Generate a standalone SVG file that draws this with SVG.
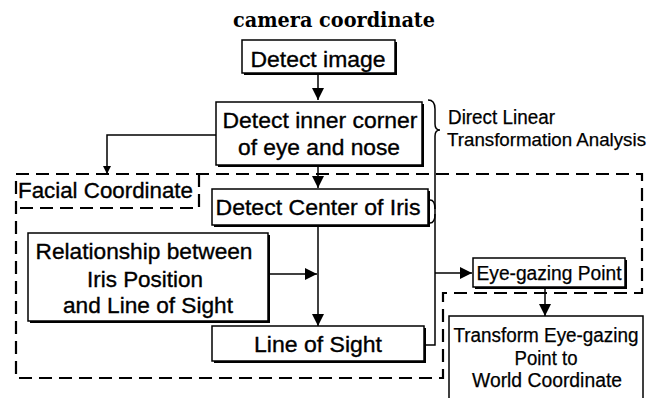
<svg xmlns="http://www.w3.org/2000/svg" width="653" height="398" viewBox="0 0 653 398">
<style>
.bx{fill:#fff;stroke:#000;stroke-width:1.5}
.sh{fill:#000}
.t{font-family:"Liberation Sans",Arial,sans-serif;font-size:22px;fill:#000;stroke:#000;stroke-width:0.35}
.s{font-family:"Liberation Sans",Arial,sans-serif;font-size:20px;fill:#000;stroke:#000;stroke-width:0.25}
.ln{fill:none;stroke:#000;stroke-width:1.5}
.dash{fill:none;stroke:#000;stroke-width:2.2;stroke-dasharray:13 7}
</style>
<defs>
<marker id="ah" viewBox="0 0 12 12" refX="12" refY="6" markerWidth="12" markerHeight="12" markerUnits="userSpaceOnUse" orient="auto">
<path d="M0,0 L12,6 L0,12 Z" fill="#000"/>
</marker>
<marker id="ahs" viewBox="0 0 10 10" refX="10" refY="5" markerWidth="8" markerHeight="8" markerUnits="userSpaceOnUse" orient="auto">
<path d="M0,0 L10,5 L0,10 Z" fill="#000"/>
</marker>
</defs>
<rect width="653" height="398" fill="#fff"/>
<text x="334" y="27" text-anchor="middle" font-family="'DejaVu Serif','Liberation Serif',serif" font-size="20" font-weight="bold" textLength="202" lengthAdjust="spacingAndGlyphs">camera coordinate</text>

<g id="regions">
<path class="dash" d="M16,174 H642 V293 H443 V378 H16 Z"/>
<path class="dash" d="M199,174 V208 H16"/>
<text class="t" x="18" y="198" textLength="175" lengthAdjust="spacingAndGlyphs">Facial Coordinate</text>
</g>

<g id="connectors">
<line class="ln" x1="318" y1="75" x2="318" y2="100" marker-end="url(#ah)"/>
<line class="ln" x1="318" y1="166" x2="318" y2="188" marker-end="url(#ah)"/>
<path class="ln" d="M216,135 H107 V174" marker-end="url(#ahs)"/>
<line class="ln" x1="318" y1="226" x2="318" y2="326" marker-end="url(#ah)"/>
<line class="ln" x1="269" y1="274" x2="317" y2="274" marker-end="url(#ah)"/>
<path class="ln" d="M428,100 C433,100 435,103 435,109 V124 C435,128 437,130 440,130 C437,130 435,132 435,136 V345 H425"/>
<path class="ln" d="M430,200 C434,200 435,203 435,209 M435,214 C435,220 434,223 430,223"/>
<line class="ln" x1="435" y1="273" x2="472" y2="273" marker-end="url(#ah)"/>
<line class="ln" x1="545" y1="288" x2="545" y2="316" marker-end="url(#ah)"/>
</g>

<g id="detect-image">
<rect class="sh" x="244" y="42" width="153" height="33"/>
<rect class="bx" x="242" y="40" width="153" height="33"/>
<text class="t" x="318" y="67" text-anchor="middle" textLength="135" lengthAdjust="spacingAndGlyphs">Detect image</text>
</g>

<g id="detect-inner-corner">
<rect class="sh" x="218" y="104" width="206" height="63"/>
<rect class="bx" x="216" y="102" width="206" height="63"/>
<text class="t" x="320" y="128" text-anchor="middle" textLength="195" lengthAdjust="spacingAndGlyphs">Detect inner corner</text>
<text class="t" x="319" y="155" text-anchor="middle" textLength="162" lengthAdjust="spacingAndGlyphs">of eye and nose</text>
</g>

<g id="detect-center">
<rect class="sh" x="214" y="191" width="216" height="36"/>
<rect class="bx" x="212" y="189" width="216" height="36"/>
<text class="t" x="318" y="215" text-anchor="middle" textLength="205" lengthAdjust="spacingAndGlyphs">Detect Center of Iris</text>
</g>

<g id="relationship">
<rect class="sh" x="30" y="235" width="240" height="88"/>
<rect class="bx" x="28" y="233" width="240" height="88"/>
<text class="t" x="144" y="259" text-anchor="middle" textLength="217" lengthAdjust="spacingAndGlyphs">Relationship between</text>
<text class="t" x="145" y="287" text-anchor="middle" textLength="116" lengthAdjust="spacingAndGlyphs">Iris Position</text>
<text class="t" x="148" y="313" text-anchor="middle" textLength="170" lengthAdjust="spacingAndGlyphs">and Line of Sight</text>
</g>

<g id="line-of-sight">
<rect class="sh" x="214" y="328" width="212" height="35"/>
<rect class="bx" x="212" y="326" width="212" height="35"/>
<text class="t" x="318" y="352" text-anchor="middle" textLength="128" lengthAdjust="spacingAndGlyphs">Line of Sight</text>
</g>

<g id="eye-gazing-point">
<rect class="sh" x="475" y="260" width="152" height="29"/>
<rect class="bx" x="473" y="258" width="152" height="29"/>
<text class="s" x="549" y="280" text-anchor="middle" textLength="145" lengthAdjust="spacingAndGlyphs">Eye-gazing Point</text>
</g>

<g id="transform">
<rect class="bx" x="449" y="316" width="194" height="100"/>
<text class="s" x="546" y="342" text-anchor="middle" textLength="185" lengthAdjust="spacingAndGlyphs">Transform Eye-gazing</text>
<text class="s" x="546" y="365" text-anchor="middle" textLength="63" lengthAdjust="spacingAndGlyphs">Point to</text>
<text class="s" x="547" y="387" text-anchor="middle" textLength="150" lengthAdjust="spacingAndGlyphs">World Coordinate</text>
</g>

<g id="dlt-label">
<text class="s" x="448" y="124" textLength="107" lengthAdjust="spacingAndGlyphs">Direct Linear</text>
<text class="s" x="447" y="146" style="font-size:18.5px" textLength="199" lengthAdjust="spacingAndGlyphs">Transformation Analysis</text>
</g>
</svg>
